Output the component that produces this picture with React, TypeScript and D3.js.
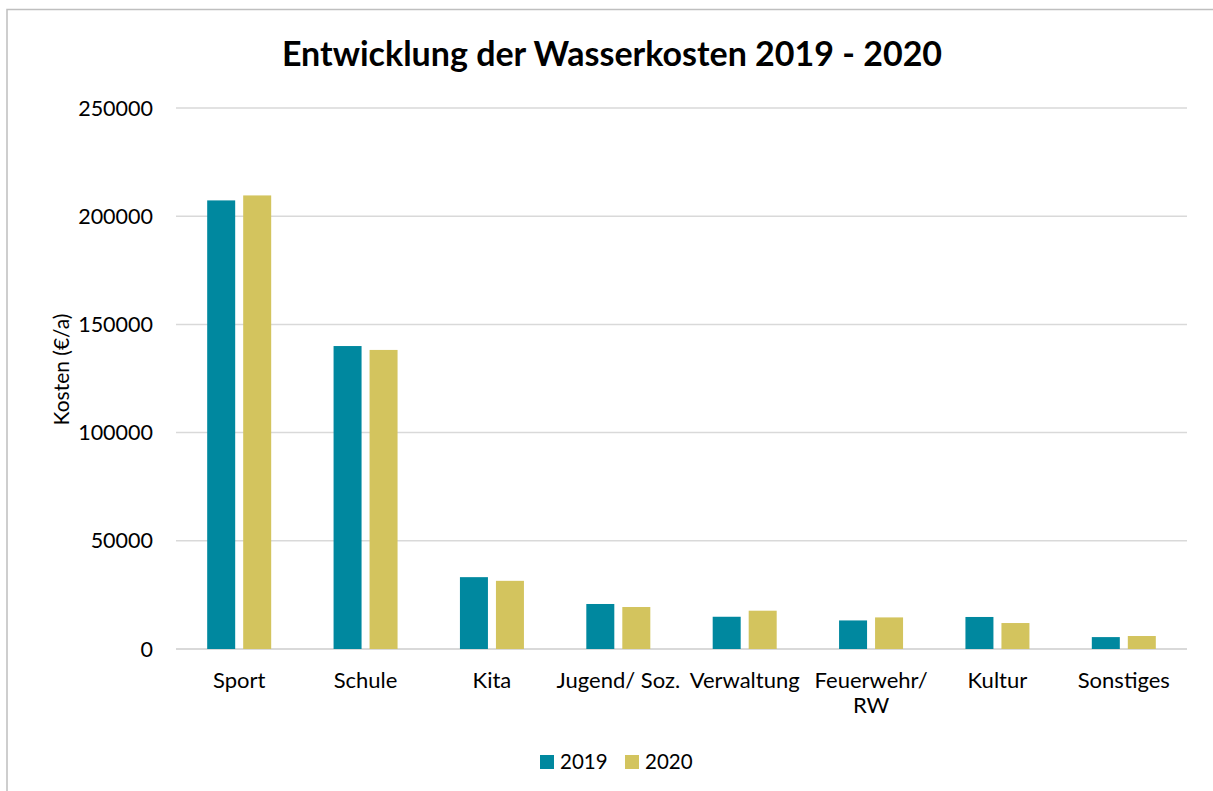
import React from "react";
import * as d3 from "d3";

const categories = ["Sport", "Schule", "Kita", "Jugend/ Soz.", "Verwaltung", "Feuerwehr/\nRW", "Kultur", "Sonstiges"];
const series2019 = [207300, 140000, 33200, 20800, 14900, 13200, 14800, 5500];
const series2020 = [209600, 138200, 31500, 19400, 17700, 14600, 12000, 6000];
const seriesNames = ["2019", "2020"];
const yTicks = [0, 50000, 100000, 150000, 200000, 250000];

const W = 1213;
const H = 791;
const colors = ["#00889F", "#D3C45E"];
const FONT = "Lato, 'Open Sans', sans-serif";

export default function App() {
  const left = 176, right = 1187, top = 108, bottom = 649;
  const x = d3.scaleBand<string>().domain(categories).range([left, right]).paddingInner(0).paddingOuter(0);
  const y = d3.scaleLinear().domain([0, 250000]).range([bottom, top]);
  const barW = 28;
  const gap = 8;
  const data = [series2019, series2020];

  return (
    <svg width={W} height={H} style={{ position: "absolute", left: 0, top: 0, background: "#fff" }} fontFamily={FONT}>
      <rect x={0} y={0} width={W} height={H} fill="#fff" />
      <rect x={7} y={9.5} width={W + 20} height={H + 20} fill="none" stroke="#BFBFBF" strokeWidth={1.5} />
      <text x={612} y={66} textAnchor="middle" fontSize={34} fontWeight="bold" fill="#000">
        Entwicklung der Wasserkosten 2019 - 2020
      </text>
      {yTicks.map((t) => (
        <g key={t}>
          <line x1={left} x2={right} y1={y(t)} y2={y(t)} stroke="#D9D9D9" strokeWidth={t === 0 ? 2 : 1.5} />
          <text x={153} y={y(t)} dy="0.35em" textAnchor="end" fontSize={21.5} fill="#000">{t}</text>
        </g>
      ))}
      <text transform={`translate(69,${(top + bottom) / 2 - 9}) rotate(-90)`} textAnchor="middle" fontSize={21} fill="#000">
        Kosten (€/a)
      </text>
      {categories.map((c, i) => {
        const cx = (x(c) as number) + x.bandwidth() / 2;
        return (
          <g key={c}>
            {data.map((s, j) => {
              const bx = j === 0 ? cx - gap / 2 - barW : cx + gap / 2;
              return <rect key={j} x={bx} y={y(s[i])} width={barW} height={bottom - y(s[i])} fill={colors[j]} />;
            })}
            {c.split("\n").map((line, k) => (
              <text key={k} x={cx} y={688 + k * 25} textAnchor="middle" fontSize={22} fill="#000">{line}</text>
            ))}
          </g>
        );
      })}
      {seriesNames.map((n, j) => (
        <g key={n} transform={`translate(${540 + j * 85},755)`}>
          <rect x={0} y={0} width={14} height={14} fill={colors[j]} />
          <text x={20} y={14} fontSize={20.5} fill="#000">{n}</text>
        </g>
      ))}
    </svg>
  );
}
